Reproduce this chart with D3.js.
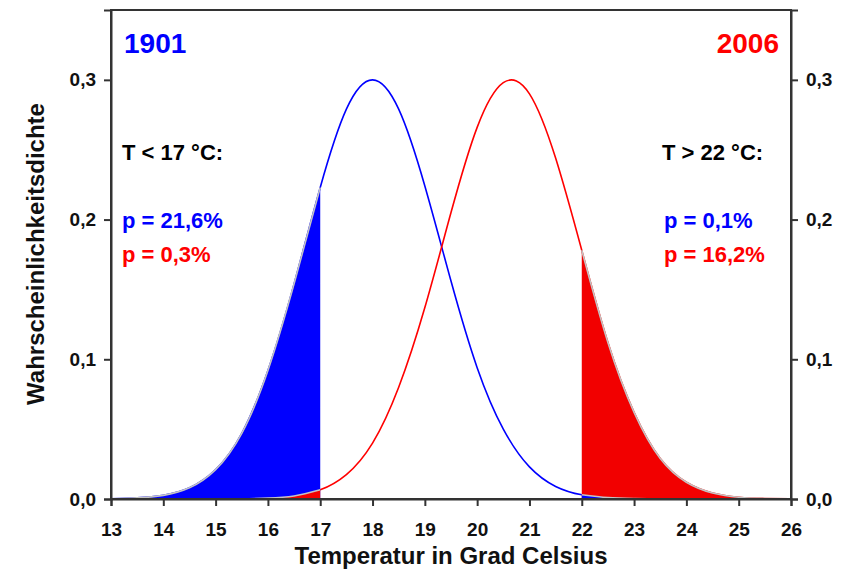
<!DOCTYPE html>
<html>
<head>
<meta charset="utf-8">
<script src="https://cdn.jsdelivr.net/npm/d3@7"></script>
<style>
  body { margin: 0; background: #fff; }
  text { font-family: Arial, "Liberation Sans", sans-serif; }
</style>
</head>
<body>
<div id="chart"></div>
<script>
// temperatures (deg C), every half degree
var temps = [13, 13.5, 14, 14.5, 15, 15.5, 16, 16.5, 17, 17.5, 18, 18.5, 19, 19.5,
             20, 20.5, 21, 21.5, 22, 22.5, 23, 23.5, 24, 24.5, 25, 25.5, 26];
// probability density, 1901 (blue)
var dens1901 = [0.0002, 0.0008, 0.0026, 0.008, 0.021, 0.047, 0.092, 0.154, 0.223, 0.279, 0.300, 0.279, 0.224, 0.156,
                0.094, 0.050, 0.023, 0.009, 0.003, 0.001, 0.0003, 0, 0, 0, 0, 0, 0];
// probability density, 2006 (red)
var dens2006 = [0, 0, 0, 0, 0.00003, 0.00015, 0.0006, 0.0022, 0.0066, 0.0175, 0.040, 0.080, 0.137, 0.205,
                0.266, 0.298, 0.290, 0.244, 0.178, 0.112, 0.062, 0.029, 0.012, 0.0043, 0.0013, 0.0004, 0.0001];
var xTicks = [13, 14, 15, 16, 17, 18, 19, 20, 21, 22, 23, 24, 25, 26];
var yTicks = [0, 0.1, 0.2, 0.3];
var lowLimit = 17, highLimit = 22;

var width = 848, height = 571;
var margin = {left: 111, right: 57, top: 10, bottom: 72};

var svg = d3.select("#chart").append("svg")
    .attr("width", width)
    .attr("height", height);

var x = d3.scaleLinear().domain([13, 26]).range([margin.left, width - margin.right]);
var y = d3.scaleLinear().domain([0, 0.35]).range([height - margin.bottom, margin.top]);

var blue = temps.map(function(t, i) { return {t: t, v: dens1901[i]}; });
var red = temps.map(function(t, i) { return {t: t, v: dens2006[i]}; });

var line = d3.line()
    .x(function(d) { return x(d.t); })
    .y(function(d) { return y(d.v); })
    .curve(d3.curveNatural);

var area = d3.area()
    .x(function(d) { return x(d.t); })
    .y0(y(0))
    .y1(function(d) { return y(d.v); })
    .curve(d3.curveNatural);

// full curves
svg.append("path").datum(blue)
    .attr("d", line).attr("fill", "none")
    .attr("stroke", "#0000ff").attr("stroke-width", 1.6);
svg.append("path").datum(red)
    .attr("d", line).attr("fill", "none")
    .attr("stroke", "#ff0000").attr("stroke-width", 1.6);

// shaded tails: T < 17 and T > 22
var tails = [
    {data: blue.filter(function(d) { return d.t <= lowLimit; }), color: "#0000ff"},
    {data: red.filter(function(d) { return d.t <= lowLimit; }), color: "#f20000"},
    {data: red.filter(function(d) { return d.t >= highLimit; }), color: "#f20000"},
    {data: blue.filter(function(d) { return d.t >= highLimit; }), color: "#0000ff"}
];
tails.forEach(function(s) {
    svg.append("path").datum(s.data)
        .attr("d", area).attr("fill", s.color);
    svg.append("path").datum(s.data)
        .attr("d", line).attr("fill", "none")
        .attr("stroke", "#c4c4c4").attr("stroke-width", 1.6);
});

var commaFmt = function(d) { return d3.format(".1f")(d).replace(".", ","); };

// frame
svg.append("rect")
    .attr("x", margin.left).attr("y", margin.top)
    .attr("width", width - margin.left - margin.right)
    .attr("height", height - margin.top - margin.bottom)
    .attr("fill", "none").attr("stroke", "#333").attr("stroke-width", 2);

var xAxis = svg.append("g")
    .attr("transform", "translate(0," + y(0) + ")")
    .call(d3.axisBottom(x).tickValues(xTicks).tickSize(7).tickPadding(30).tickFormat(d3.format("d")));
var yLeft = svg.append("g")
    .attr("transform", "translate(" + margin.left + ",0)")
    .call(d3.axisLeft(y).tickValues(yTicks).tickSize(7).tickPadding(8).tickFormat(commaFmt));
var yRight = svg.append("g")
    .attr("transform", "translate(" + (width - margin.right) + ",0)")
    .call(d3.axisRight(y).tickValues(yTicks).tickSize(7).tickPadding(8).tickFormat(commaFmt));

[xAxis, yLeft, yRight].forEach(function(g) {
    g.attr("font-size", null).attr("font-family", null);
    g.select(".domain").attr("stroke", "#333").attr("stroke-width", 2);
    g.selectAll(".tick line").attr("stroke", "#333").attr("stroke-width", 2);
    g.selectAll(".tick text")
        .attr("fill", "#111")
        .style("font-size", "19px")
        .style("font-weight", "bold");
});
xAxis.selectAll(".tick text").attr("dy", null);

// axis titles
svg.append("text")
    .attr("x", (x(13) + x(26)) / 2).attr("y", 564)
    .attr("text-anchor", "middle")
    .style("font-size", "24px").style("font-weight", "bold").attr("fill", "#111")
    .text("Temperatur in Grad Celsius");
svg.append("text")
    .attr("transform", "translate(44," + 254 + ") rotate(-90)")
    .attr("text-anchor", "middle")
    .style("font-size", "24px").style("font-weight", "bold").attr("fill", "#111")
    .text("Wahrscheinlichkeitsdichte");

// year labels
svg.append("text").attr("x", 124).attr("y", 53)
    .style("font-size", "28px").style("font-weight", "bold").attr("fill", "#0000ff")
    .text("1901");
svg.append("text").attr("x", 779).attr("y", 53).attr("text-anchor", "end")
    .style("font-size", "28px").style("font-weight", "bold").attr("fill", "#ff0000")
    .text("2006");

// annotations
var notes = [
    {x: 122, y: 160, text: "T < 17 °C:", color: "#000"},
    {x: 122, y: 228, text: "p = 21,6%", color: "#0000ff"},
    {x: 122, y: 262, text: "p = 0,3%", color: "#ff0000"},
    {x: 662, y: 160, text: "T > 22 °C:", color: "#000"},
    {x: 664, y: 228, text: "p = 0,1%", color: "#0000ff"},
    {x: 664, y: 262, text: "p = 16,2%", color: "#ff0000"}
];
notes.forEach(function(n) {
    svg.append("text").attr("x", n.x).attr("y", n.y)
        .style("font-size", "22px").style("font-weight", "bold").attr("fill", n.color)
        .text(n.text);
});
</script>
</body>
</html>
